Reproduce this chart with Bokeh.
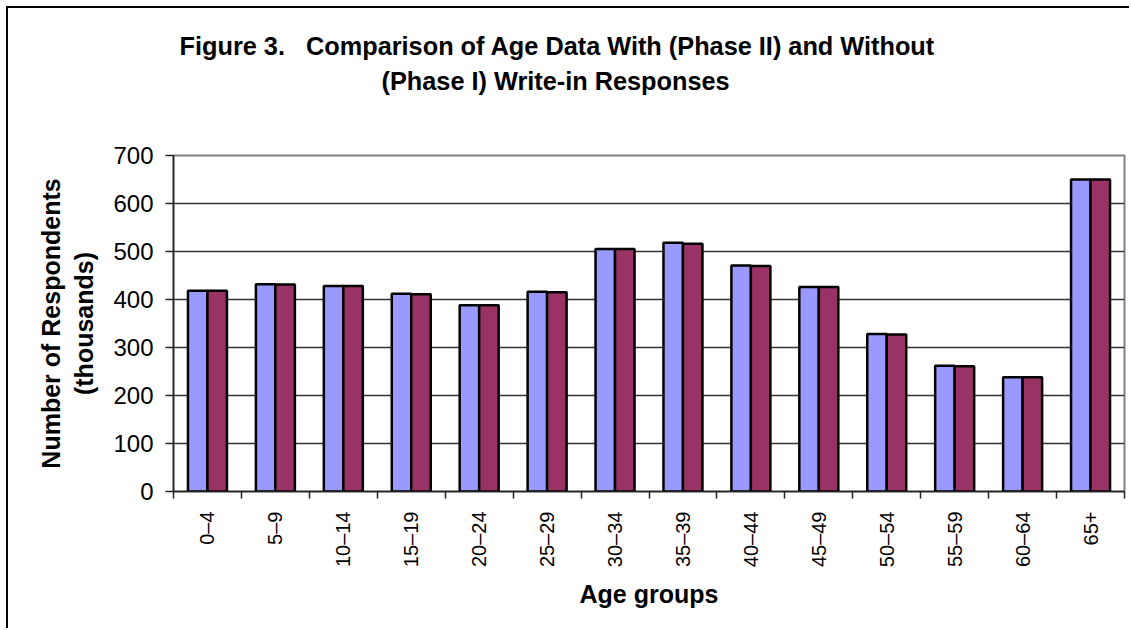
import math
from bokeh.plotting import figure
from bokeh.models import Range1d, FixedTicker, Title, ColumnDataSource
from bokeh.embed import file_html
from bokeh.resources import INLINE

# ---------------- data ----------------
age_groups = ["0–4", "5–9", "10–14", "15–19", "20–24", "25–29", "30–34",
              "35–39", "40–44", "45–49", "50–54", "55–59", "60–64", "65+"]
phase_i_without = [418, 432, 428, 412, 388, 416, 505, 518, 471, 426, 328, 262, 238, 650]
phase_ii_with = [418, 431, 428, 411, 388, 415, 505, 516, 470, 426, 327, 261, 238, 650]
y_ticks = [0, 100, 200, 300, 400, 500, 600, 700]

title_line1 = "Figure 3. \u00a0\u00a0Comparison of Age Data With (Phase II) and Without"
title_line2 = "(Phase I) Write-in Responses"
y_title = "Number of Respondents\n(thousands)"
x_title = "Age groups"

# ---------------- layout constants (page pixels) ----------------
ORIGIN = 8
FRAME_L, FRAME_R = 173, 1124
FRAME_T, FRAME_B = 155, 491
W, H = 1123, 622
n = len(age_groups)
YMAX = 700

BAR_W = 0.287
BLUE = "#9999FF"
PLUM = "#993366"
FONT = "'Liberation Sans', Arial, sans-serif"

p = figure(width=W, height=H,
           x_range=Range1d(0, n), y_range=Range1d(0, YMAX),
           output_backend="svg", toolbar_location=None,
           min_border_left=FRAME_L - ORIGIN,
           min_border_right=W - (FRAME_L - ORIGIN) - (FRAME_R - FRAME_L),
           min_border_top=FRAME_T - ORIGIN,
           min_border_bottom=H - (FRAME_T - ORIGIN) - (FRAME_B - FRAME_T))
p.styles = {"margin-left": "6px", "margin-top": "6px",
            "border-top": "2px solid black", "border-left": "2px solid black"}
p.background_fill_color = "white"
p.border_fill_color = "white"
p.outline_line_color = "#808080"
p.outline_line_width = 2

centers = [i + 0.5 for i in range(n)]
src = ColumnDataSource(dict(
    xa=[c - BAR_W / 2 for c in centers],
    xb=[c + BAR_W / 2 for c in centers],
    a=phase_i_without, b=phase_ii_with))

p.vbar(x="xa", top="a", bottom=0, width=BAR_W, source=src,
       fill_color=BLUE, line_color="black", line_width=2.5)
p.vbar(x="xb", top="b", bottom=0, width=BAR_W, source=src,
       fill_color=PLUM, line_color="black", line_width=2.5)

# grid
p.xgrid.visible = False
p.ygrid.ticker = FixedTicker(ticks=y_ticks[1:-1])
p.ygrid.grid_line_color = "#333333"
p.ygrid.grid_line_width = 1.3
p.ygrid.level = "underlay"

# y axis
ya = p.yaxis[0]
ya.ticker = FixedTicker(ticks=y_ticks)
ya.axis_line_color = "#222222"
ya.axis_line_width = 1.5
ya.major_tick_line_color = "#222222"
ya.major_tick_line_width = 1.5
ya.major_tick_out = 8
ya.major_tick_in = 0
ya.minor_tick_line_color = None
ya.major_label_standoff = 12
ya.major_label_text_font = FONT
ya.major_label_text_font_size = "24px"
ya.major_label_text_color = "black"
ya.axis_label = y_title
ya.axis_label_text_font = FONT
ya.axis_label_text_font_size = "25px"
ya.axis_label_text_font_style = "bold"
ya.axis_label_text_color = "black"
ya.axis_label_standoff = 12
ya.axis_label_text_align = "center"

# x axis: labels at group centres, ticks at group boundaries
xa = p.xaxis[0]
xa.ticker = FixedTicker(ticks=centers, minor_ticks=list(range(n + 1)))
xa.major_label_overrides = {c: lab for c, lab in zip(centers, age_groups)}
xa.major_label_orientation = math.pi / 2
xa.major_tick_line_color = None
xa.major_tick_out = 0
xa.major_tick_in = 0
xa.minor_tick_line_color = "#222222"
xa.minor_tick_line_width = 1.5
xa.minor_tick_out = 7
xa.minor_tick_in = 0
xa.axis_line_color = "#222222"
xa.axis_line_width = 1.5
xa.major_label_standoff = 13
xa.major_label_text_font = FONT
xa.major_label_text_font_size = "20px"
xa.major_label_text_color = "black"
xa.axis_label = x_title
xa.axis_label_text_font = FONT
xa.axis_label_text_font_size = "25px"
xa.axis_label_text_font_style = "bold"
xa.axis_label_text_color = "black"
xa.axis_label_standoff = 10

# titles: an invisible spacer nearest the plot, then line 2, then line 1
spacer = Title(text="\u00a0", text_font_size="2px", standoff=54)
t2 = Title(text=title_line2, align="left", offset=381 - FRAME_L,
           text_font=FONT, text_font_size="25.3px",
           text_font_style="bold", text_color="black", standoff=5)
t1 = Title(text=title_line1, align="left", offset=179 - FRAME_L,
           text_font=FONT, text_font_size="25.3px",
           text_font_style="bold", text_color="black", standoff=5)
p.add_layout(spacer, "above")
p.add_layout(t2, "above")
p.add_layout(t1, "above")

open("out.html", "w").write(file_html(p, INLINE))
